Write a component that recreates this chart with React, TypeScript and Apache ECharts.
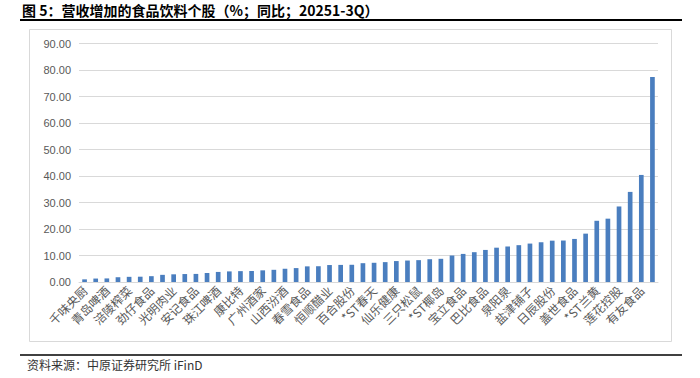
import React, { useEffect, useRef } from "react";
import * as echarts from "echarts";

const labeledNames = [
  "千味央厨", "青岛啤酒", "涪陵榨菜", "劲仔食品", "光明肉业", "安记食品",
  "珠江啤酒", "康比特", "广州酒家", "山西汾酒", "春雪食品", "恒顺醋业",
  "百合股份", "*ST春天", "仙乐健康", "三只松鼠", "*ST椰岛", "宝立食品",
  "巴比食品", "泉阳泉", "盐津铺子", "日辰股份", "盖世食品", "*ST兰黄",
  "莲花控股", "有友食品",
];

const values = [
  1.0, 1.3, 1.35, 1.8, 1.95, 2.0, 2.2, 2.7, 2.9, 3.0,
  3.05, 3.4, 3.8, 4.0, 4.1, 4.15, 4.4, 4.6, 5.0, 5.25,
  5.9, 5.95, 6.4, 6.45, 6.5, 7.1, 7.25, 7.5, 7.9, 8.1,
  8.25, 8.6, 8.75, 10.0, 10.6, 11.25, 12.1, 12.95, 13.4, 13.9,
  14.5, 15.0, 15.6, 15.65, 16.25, 18.25, 23.1, 23.9, 28.5, 34.0,
  40.4, 77.4,
];

// categories: labelled names at even positions, unlabelled bars in between
const categories = values.map((_, i) => (i % 2 === 0 ? labeledNames[i / 2] ?? "" : ""));

const titleText = "图 5：营收增加的食品饮料个股（%；同比；20251-3Q）";
const sourceText = "资料来源：中原证券研究所 iFinD";

export default function App() {
  const ref = useRef<HTMLDivElement>(null);
  useEffect(() => {
    if (!ref.current) return;
    const chart = echarts.init(ref.current, undefined, { renderer: "svg" });
    chart.setOption({
      animation: false,
      backgroundColor: "#ffffff",
      grid: { left: 79, right: 42, top: 43.5, bottom: 96, containLabel: false },
      xAxis: {
        type: "category",
        data: categories,
        axisTick: { show: false },
        axisLine: { lineStyle: { color: "#d9d9d9", width: 1 } },
        axisLabel: {
          interval: 1,
          rotate: 45,
          fontSize: 12,
          color: "#595959",
          margin: 6,
          fontFamily: "Noto Sans CJK SC",
        },
      },
      yAxis: {
        type: "value",
        min: 0,
        max: 90,
        interval: 10,
        axisLine: { show: false },
        axisTick: { show: false },
        splitLine: { lineStyle: { color: "#d9d9d9", width: 1 } },
        axisLabel: {
          formatter: (v: number) => v.toFixed(2),
          fontSize: 11,
          color: "#595959",
          margin: 8,
          fontFamily: "Liberation Sans",
        },
      },
      series: [
        {
          type: "bar",
          data: values,
          barWidth: "42%",
          itemStyle: { color: "#4a7ebf" },
        },
      ],
      graphic: [
        {
          type: "text",
          left: 22,
          top: 3,
          style: {
            text: titleText,
            font: "bold 14px 'Noto Sans CJK SC'",
            fill: "#000000",
          },
        },
        {
          type: "line",
          shape: { x1: 20, y1: 20, x2: 682, y2: 20 },
          style: { stroke: "#000000", lineWidth: 2 },
        },
        {
          type: "rect",
          shape: { x: 29.5, y: 29.5, width: 642, height: 312 },
          style: { fill: "none", stroke: "#d9d9d9", lineWidth: 1 },
          z: -1,
        },
        {
          type: "line",
          shape: { x1: 20, y1: 355, x2: 682, y2: 355 },
          style: { stroke: "#000000", lineWidth: 1.5 },
        },
        {
          type: "text",
          left: 27,
          top: 358,
          style: {
            text: sourceText,
            font: "12px 'Noto Sans CJK SC'",
            fill: "#333333",
          },
        },
      ],
    });
    return () => chart.dispose();
  }, []);
  return (
    <div
      ref={ref}
      style={{ position: "absolute", left: 0, top: 0, width: 700, height: 378 }}
    />
  );
}
